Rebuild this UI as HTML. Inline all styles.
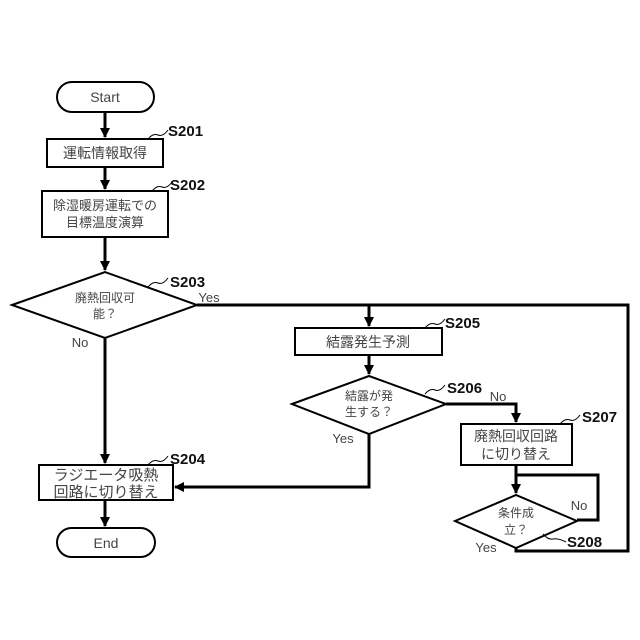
<!DOCTYPE html>
<html><head><meta charset="utf-8"><style>
html,body{margin:0;padding:0;background:#fff}
svg{display:block}
text{font-family:"Liberation Sans","Noto Sans CJK JP",sans-serif;fill:#444}
.l{font-weight:bold;font-size:15px;fill:#111}
</style></head><body>
<svg width="640" height="640" viewBox="0 0 640 640" xmlns="http://www.w3.org/2000/svg">
<defs><marker id="a" markerWidth="10" markerHeight="10" refX="9" refY="5" orient="auto" markerUnits="userSpaceOnUse"><path d="M0,0 L10,5 L0,10z" fill="#000"/></marker></defs>
<g stroke="#000" stroke-width="2" fill="#fff">
<rect x="57" y="82" width="97" height="30" rx="15"/>
<rect x="47" y="139" width="116" height="28"/>
<rect x="42" y="191" width="126" height="46"/>
<polygon points="12,305 105,272 197,305 105,338"/>
<rect x="39" y="465" width="134" height="35"/>
<rect x="57" y="528" width="98" height="29" rx="14.5"/>
<rect x="295" y="328" width="147" height="27"/>
<polygon points="292,404 369,376 446,404 369,434"/>
<rect x="461" y="424" width="111" height="41"/>
<polygon points="455,521 516,495 577,521 516,548"/>
</g>
<g stroke="#000" stroke-width="3" fill="none">
<path d="M105,112 V137" marker-end="url(#a)"/>
<path d="M105,167 V189" marker-end="url(#a)"/>
<path d="M105,237 V270" marker-end="url(#a)"/>
<path d="M105,338 V463" marker-end="url(#a)"/>
<path d="M105,500 V526" marker-end="url(#a)"/>
<path d="M197,305 H628 V551 H516 V548"/>
<path d="M369,305 V326" marker-end="url(#a)"/>
<path d="M369,355 V374" marker-end="url(#a)"/>
<path d="M446,404 H516 V422" marker-end="url(#a)"/>
<path d="M369,434 V487 H175" marker-end="url(#a)"/>
<path d="M516,465 V493" marker-end="url(#a)"/>
<path d="M516,475 H598 V520 H577"/>
</g>
<g stroke="#000" stroke-width="1" fill="none">
<path d="M148,139 q5,-6 10,-4 q5,2 10,-5"/>
<path d="M152,191 q5,-6 10,-4 q5,2 10,-5"/>
<path d="M148,287 q5,-6 10,-4 q5,2 10,-5"/>
<path d="M148,465 q5,-6 10,-4 q5,2 10,-5"/>
<path d="M425,328 q5,-6 10,-4 q5,2 10,-5"/>
<path d="M425,394 q5,-6 10,-4 q5,2 10,-5"/>
<path d="M560,424 q5,-6 10,-4 q5,2 10,-5"/>
<path d="M543,534 q5,6 10,5 q5,-1 13,3"/>
</g>
<text class="l" x="168" y="136">S201</text>
<text class="l" x="170" y="190">S202</text>
<text class="l" x="170" y="287">S203</text>
<text class="l" x="170" y="464">S204</text>
<text class="l" x="445" y="328">S205</text>
<text class="l" x="447" y="393">S206</text>
<text class="l" x="582" y="422">S207</text>
<text class="l" x="567" y="547">S208</text>
<g font-size="13" text-anchor="middle">
<text x="105" y="102" font-size="14">Start</text>
<text x="105" y="158" font-size="14">運転情報取得</text>
<text x="105" y="210">除湿暖房運転での</text>
<text x="105" y="227">目標温度演算</text>
<text x="105" y="302" font-size="12">廃熱回収可</text>
<text x="105" y="318" font-size="12">能？</text>
<text x="106" y="480" font-size="15">ラジエータ吸熱</text>
<text x="106" y="497" font-size="15">回路に切り替え</text>
<text x="106" y="548" font-size="14">End</text>
<text x="368" y="347" font-size="14">結露発生予測</text>
<text x="369" y="400" font-size="12">結露が発</text>
<text x="369" y="416" font-size="12">生する？</text>
<text x="516" y="441" font-size="14">廃熱回収回路</text>
<text x="516" y="459" font-size="14">に切り替え</text>
<text x="516" y="517" font-size="12">条件成</text>
<text x="516" y="534" font-size="12">立？</text>
<text x="209" y="302">Yes</text>
<text x="80" y="347">No</text>
<text x="343" y="443">Yes</text>
<text x="498" y="401">No</text>
<text x="579" y="510">No</text>
<text x="486" y="552">Yes</text>
</g>
</svg>
</body></html>
